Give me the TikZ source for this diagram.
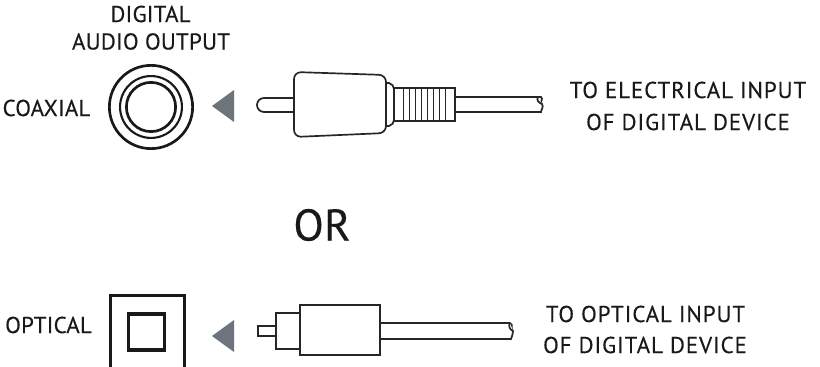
\documentclass[tikz,border=0pt]{standalone}
\usepackage{fontspec}
\setmainfont[LetterSpace=4,FakeBold=0.25]{PT Sans}
\newfontfamily\tightfont[LetterSpace=1,FakeBold=0.25]{PT Sans}
\begin{document}
\begin{tikzpicture}
	[x=0.025cm,y=-0.025cm,
	caption/.style={inner sep=0pt,font=\fontsize{16.3}{18}\selectfont,text=black!90},
	tightcaption/.style={inner sep=0pt,font=\tightfont\fontsize{16.3}{18}\selectfont,text=black!90},
	ring/.style={circle,draw=black!90,line width=1.9pt,inner sep=0pt,fill=none},
	pointer/.style={fill=arrowgray,draw=none},
	body/.style={draw=black!85,line width=1.2pt,fill=white},
	rib/.style={draw=black!85,line width=0.7pt}]
	\definecolor{arrowgray}{HTML}{6D747B}
	\useasboundingbox (0,0) rectangle (820,367);
	% top row
	\node[tightcaption] (digital) at (150.5,14) {DIGITAL};
	\node[tightcaption] (audio) at (151,41.5) {AUDIO OUTPUT};
	\node[tightcaption] (coaxial) at (46.5,108) {COAXIAL};
	\node[ring,minimum size=59.2pt] (outerring) at (151,107) {};
	\node[ring,minimum size=44pt,line width=1.5pt] (midring) at (151,107) {};
	\node[ring,minimum size=35pt] (innerring) at (151,107) {};
	\fill[pointer] (212,106) -- (234,90) -- (234,122) -- cycle;
	% coaxial plug
	\draw[body] (294,98) -- (264,98) arc (-90:-270:7) -- (294,112);
	\draw[body] (455,97) -- (541,97) .. controls (544,99) and (539,102) .. (542,104) .. controls (544,107) and (541,110) .. (541,112) -- (455,112);
	\draw[body] (538,97) .. controls (536,100) and (539,103) .. (542,104);
	\draw[body] (394,88) rectangle (455,121);
	\foreach \x in {403,409,...,445}
		\draw[rib] (\x,88) -- (\x,121);
	\draw[body] (386,83) -- (389,83) .. controls (392,84) and (394,86) .. (394,89) -- (394,120) .. controls (394,123) and (392,125) .. (389,126) -- (386,126);
	\draw[body,rounded corners=5] (294,72) -- (386,75) -- (386,133) -- (294,137) -- cycle;
	% or
	\node[tightcaption,font=\tightfont\fontsize{31.5}{34}\selectfont] (orword) at (322,225) {OR};
	% bottom row
	\node[tightcaption] (optical) at (48.5,325) {OPTICAL};
	\draw[black!90,line width=1.9pt] (110.3,369) -- (110.3,295.3) -- (184.7,295.3) -- (184.7,369);
	\node[draw=black!90,line width=2.2pt,inner sep=0pt,minimum size=25.6pt] (innersquare) at (146.5,332) {};
	\fill[pointer] (212,336) -- (234,320) -- (234,352) -- cycle;
	% optical plug
	\draw[body] (258,326) rectangle (276,336);
	\draw[body] (276,313) rectangle (300,349);
	\draw[body] (380,323) -- (510,323) .. controls (514,325) and (510,328) .. (513,331) .. controls (514,334) and (511,336) .. (511,339) -- (380,339);
	\draw[body] (510,323) .. controls (508,326) and (510,330) .. (513,331);
	\draw[body] (300,305) rectangle (380,355);
	% right captions
	\node[caption] (toelectrical) at (688,90) {TO ELECTRICAL INPUT};
	\node[caption] (ofdigitala) at (688,122) {OF DIGITAL DEVICE};
	\node[caption] (tooptical) at (645.5,314) {TO OPTICAL INPUT};
	\node[caption] (ofdigitalb) at (645,345) {OF DIGITAL DEVICE};
\end{tikzpicture}
\end{document}
